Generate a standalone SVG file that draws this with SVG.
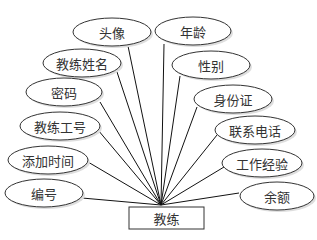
<svg xmlns="http://www.w3.org/2000/svg" width="317" height="240" viewBox="0 0 317 240">
<style>
.sh{fill:#dedede;stroke:none}
.el{fill:#ffffff;stroke:#333333;stroke-width:1}
.t{font-family:"Noto Sans CJK SC","Noto Sans",sans-serif;font-size:13px;fill:#333333;text-anchor:middle;dominant-baseline:central}
.c line{stroke:#111111;stroke-width:1}
</style>
<rect width="317" height="240" fill="#ffffff"/>
<g class="c" id="connectors">
<line x1="128" y1="46" x2="161" y2="205"/>
<line x1="164" y1="44" x2="161" y2="205"/>
<line x1="117" y1="72" x2="161" y2="205"/>
<line x1="180" y1="76" x2="161" y2="205"/>
<line x1="100" y1="102" x2="161" y2="205"/>
<line x1="197" y1="107" x2="161" y2="205"/>
<line x1="98" y1="130" x2="161" y2="205"/>
<line x1="217" y1="135" x2="161" y2="205"/>
<line x1="88" y1="162" x2="161" y2="205"/>
<line x1="224" y1="167" x2="161" y2="205"/>
<line x1="82" y1="198" x2="161" y2="205"/>
<line x1="239" y1="193" x2="161" y2="205"/>
</g>
<g id="n-touxiang"><ellipse class="sh" cx="114" cy="34" rx="39" ry="14"/><ellipse class="el" cx="112" cy="32" rx="39" ry="14"/><text class="t" x="112" y="32">头像</text></g>
<g id="n-nianling"><ellipse class="sh" cx="195" cy="33" rx="38" ry="14"/><ellipse class="el" cx="193" cy="31" rx="38" ry="14"/><text class="t" x="193" y="31">年龄</text></g>
<g id="n-xingming"><ellipse class="sh" cx="84" cy="65" rx="39" ry="14"/><ellipse class="el" cx="82" cy="63" rx="39" ry="14"/><text class="t" x="82" y="63">教练姓名</text></g>
<g id="n-xingbie"><ellipse class="sh" cx="213" cy="67" rx="39" ry="14"/><ellipse class="el" cx="211" cy="65" rx="39" ry="14"/><text class="t" x="211" y="65">性别</text></g>
<g id="n-mima"><ellipse class="sh" cx="66" cy="94" rx="38" ry="14"/><ellipse class="el" cx="64" cy="92" rx="38" ry="14"/><text class="t" x="64" y="92">密码</text></g>
<g id="n-shenfenzheng"><ellipse class="sh" cx="235" cy="101" rx="39" ry="14"/><ellipse class="el" cx="233" cy="99" rx="39" ry="14"/><text class="t" x="233" y="99">身份证</text></g>
<g id="n-gonghao"><ellipse class="sh" cx="62" cy="128" rx="40" ry="14"/><ellipse class="el" cx="60" cy="126" rx="40" ry="14"/><text class="t" x="60" y="126">教练工号</text></g>
<g id="n-dianhua"><ellipse class="sh" cx="257" cy="132" rx="40" ry="14"/><ellipse class="el" cx="255" cy="130" rx="40" ry="14"/><text class="t" x="255" y="130">联系电话</text></g>
<g id="n-shijian"><ellipse class="sh" cx="50" cy="162" rx="40" ry="14"/><ellipse class="el" cx="48" cy="160" rx="40" ry="14"/><text class="t" x="48" y="160">添加时间</text></g>
<g id="n-jingyan"><ellipse class="sh" cx="264" cy="165" rx="40" ry="14"/><ellipse class="el" cx="262" cy="163" rx="40" ry="14"/><text class="t" x="262" y="163">工作经验</text></g>
<g id="n-bianhao"><ellipse class="sh" cx="46" cy="195" rx="39" ry="14"/><ellipse class="el" cx="44" cy="193" rx="39" ry="14"/><text class="t" x="44" y="193">编号</text></g>
<g id="n-yue"><ellipse class="sh" cx="279" cy="198" rx="37" ry="14"/><ellipse class="el" cx="277" cy="196" rx="37" ry="14"/><text class="t" x="277" y="196">余额</text></g>
<g id="n-jiaolian"><rect x="129" y="207" width="75" height="22" fill="#ffffff" stroke="#333333" stroke-width="1"/><text class="t" x="166.5" y="218">教练</text></g>
</svg>
